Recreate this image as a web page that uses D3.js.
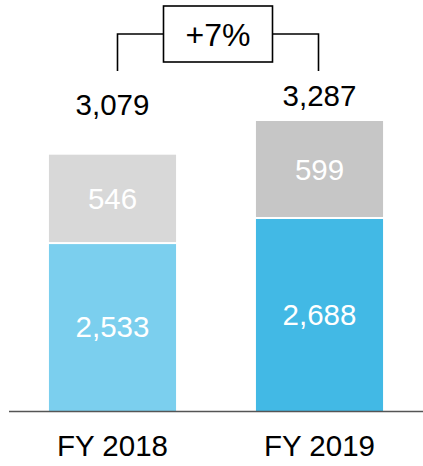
<!DOCTYPE html>
<html>
<head>
<meta charset="utf-8">
<script src="https://cdn.jsdelivr.net/npm/d3@7"></script>
<style>
  html, body { margin: 0; padding: 0; background: #fff; }
  svg { display: block; font-family: "Liberation Sans", Arial, sans-serif; }
</style>
</head>
<body>
<div id="chart"></div>
<script>
const width = 423;
const height = 466;

// data
const categories = ["FY 2018", "FY 2019"];
const baseValues = [2533, 2688];
const topValues = [546, 599];

// styles
const baseColors = ["#7bcfee", "#42b9e5"];
const topColors = ["#d8d8d8", "#c6c6c6"];
const totalGap = [40, 15]; // label distance above the bar top
const fs = "29.5px";

const totals = categories.map((c, i) => baseValues[i] + topValues[i]);
const growth = Math.round((totals[1] / totals[0] - 1) * 100);
const fmt = d3.format(",");

const svg = d3.select("#chart")
    .append("svg")
    .attr("width", width)
    .attr("height", height);

const x = d3.scaleBand()
    .domain(categories)
    .range([9, 423])
    .paddingInner(0.386)
    .paddingOuter(0.193);

// truncated value axis, floor sits on the baseline
const y = d3.scaleLinear()
    .domain([1496, 3287])
    .range([411, 121]);

const rows = categories.map((c, i) => ({
    cat: c, i: i, base: baseValues[i], top: topValues[i], total: totals[i]
}));

// base segments
svg.append("g")
    .selectAll("rect")
    .data(rows)
    .join("rect")
    .attr("x", d => x(d.cat))
    .attr("y", d => y(d.base) + 1)
    .attr("width", x.bandwidth())
    .attr("height", d => y.range()[0] - y(d.base) - 1)
    .attr("fill", d => baseColors[d.i]);

// top segments
svg.append("g")
    .selectAll("rect")
    .data(rows)
    .join("rect")
    .attr("x", d => x(d.cat))
    .attr("y", d => y(d.total))
    .attr("width", x.bandwidth())
    .attr("height", d => y(d.base) - y(d.total) - 1)
    .attr("fill", d => topColors[d.i]);

// segment labels
const inner = svg.append("g")
    .attr("fill", "#fff")
    .attr("font-size", fs)
    .attr("text-anchor", "middle");

inner.selectAll("text.base")
    .data(rows)
    .join("text")
    .attr("class", "base")
    .attr("x", d => x(d.cat) + x.bandwidth() / 2)
    .attr("y", d => (y(d.base) + y.range()[0]) / 2)
    .attr("dy", "0.35em")
    .text(d => fmt(d.base));

inner.selectAll("text.top")
    .data(rows)
    .join("text")
    .attr("class", "top")
    .attr("x", d => x(d.cat) + x.bandwidth() / 2)
    .attr("y", d => (y(d.base) + y(d.total)) / 2)
    .attr("dy", "0.35em")
    .text(d => fmt(d.top));

// totals
svg.append("g")
    .attr("fill", "#000")
    .attr("font-size", fs)
    .attr("text-anchor", "middle")
    .selectAll("text")
    .data(rows)
    .join("text")
    .attr("x", d => x(d.cat) + x.bandwidth() / 2)
    .attr("y", d => y(d.total) - totalGap[d.i])
    .text(d => fmt(d.total));

// baseline
svg.append("line")
    .attr("x1", x.range()[0])
    .attr("x2", x.range()[1])
    .attr("y1", y.range()[0] + 0.5)
    .attr("y2", y.range()[0] + 0.5)
    .attr("stroke", "#555")
    .attr("stroke-width", 1.5);

// category labels
svg.append("g")
    .attr("font-size", fs)
    .attr("text-anchor", "middle")
    .selectAll("text")
    .data(categories)
    .join("text")
    .attr("x", d => x(d) + x.bandwidth() / 2)
    .attr("y", 456)
    .text(d => d);

// growth bracket
const lx = x(categories[0]) + x.bandwidth() / 2 + 5;
const rx = x(categories[1]) + x.bandwidth() / 2 - 1;
const mid = (lx + rx) / 2;
const bw = 109, bh = 56, by = 34, legY = 71;

const br = svg.append("g")
    .attr("fill", "none")
    .attr("stroke", "#000")
    .attr("stroke-width", 1.6);

br.append("path")
    .attr("d", `M${lx},${legY}V${by}H${mid - bw / 2}M${mid + bw / 2},${by}H${rx}V${legY}`);

br.append("rect")
    .attr("x", mid - bw / 2)
    .attr("y", by - bh / 2)
    .attr("width", bw)
    .attr("height", bh)
    .attr("fill", "#fff");

svg.append("text")
    .attr("x", mid)
    .attr("y", by)
    .attr("dy", "0.36em")
    .attr("text-anchor", "middle")
    .attr("font-size", "32px")
    .text(`+${growth}%`);
</script>
</body>
</html>
